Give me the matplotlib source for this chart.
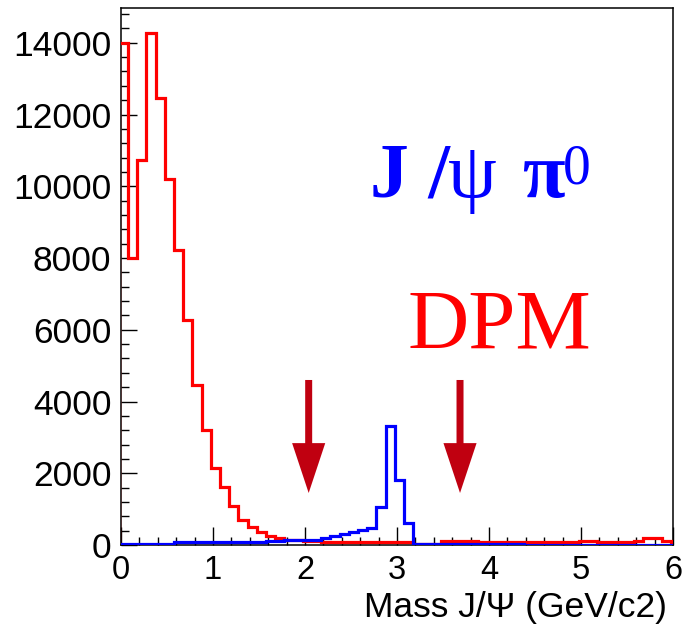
import numpy as np
import matplotlib
matplotlib.use("Agg")
import matplotlib.pyplot as plt
from matplotlib.ticker import MultipleLocator

# histogram binning: 0.1 GeV bins, first edge at -0.025
bin_width = 0.1
first_edge = -0.025

# DPM background (red)
dpm_counts = [14000, 8010, 10740, 14270, 12470, 10210, 8210, 6280, 4470, 3215,
              2160, 1620, 1090, 705, 500, 360, 262, 200, 150, 150,
              110, 100, 75, 75, 75, 70, 75, 75, 70, 75,
              75, 75, 30, 30, 30, 125, 125, 125, 125, 90,
              90, 90, 90, 90, 92, 92, 92, 92, 92, 92,
              115, 115, 92, 92, 92, 92, 100, 195, 190, 110,
              90]

# J/psi pi0 signal (blue)
sig_counts = [40, 40, 40, 40, 40, 40, 80, 80, 80, 80,
              80, 80, 80, 80, 80, 80, 125, 125, 130, 130,
              140, 150, 200, 250, 300, 355, 410, 480, 1050, 3310,
              1808, 610, 40, 40, 40, 40, 40, 40, 40, 40,
              40, 40, 40, 40, 0, 0, 0, 0, 0, 0,
              0, 0, 0, 0, 0, 0, 0, 0, 0, 0,
              0]

edges = first_edge + bin_width * np.arange(len(dpm_counts) + 1)

# cut positions (arrows)
cut_x = [2.04, 3.685]
arrow_top = 4600
arrow_tip = 1450

fig = plt.figure(figsize=(6.83, 6.28), dpi=100)
ax = fig.add_axes([121 / 683, 1 - 545 / 628, 552 / 683, (545 - 7.5) / 628])

ax.stairs(dpm_counts, edges, color="#ff0000", linewidth=2.3, baseline=0, zorder=3)
ax.stairs(sig_counts, edges, color="#0000ff", linewidth=2.3, baseline=0, zorder=3)

for cx in cut_x:
    ax.arrow(cx, arrow_top, 0, arrow_tip - arrow_top, width=0.076,
             head_width=0.36, head_length=1390, length_includes_head=True,
             color="#c00010", linewidth=0, zorder=4)

ax.set_xlim(0, 6)
ax.set_ylim(0, 1.05 * max(dpm_counts))

ax.xaxis.set_major_locator(MultipleLocator(1))
ax.xaxis.set_minor_locator(MultipleLocator(0.2))
ax.yaxis.set_major_locator(MultipleLocator(2000))
ax.yaxis.set_minor_locator(MultipleLocator(400))

ax.tick_params(which="both", direction="in", top=False, right=False, width=1.0)
ax.tick_params(axis="y", which="major", length=11.5, pad=7)
ax.tick_params(axis="y", which="minor", length=5.8)
ax.tick_params(axis="x", which="major", length=13, pad=7)
ax.tick_params(axis="x", which="minor", length=6)

for lab in ax.get_yticklabels():
    lab.set_family(["Liberation Sans"])
    lab.set_fontsize(25.5)
for lab in ax.get_xticklabels():
    lab.set_family(["Liberation Sans"])
    lab.set_fontsize(23.5)

for sp in ax.spines.values():
    sp.set_linewidth(1.1)

fig.text(667 / 683, 1 - 617 / 628, "Mass J/\u03a8 (GeV/c2)", ha="right",
         va="baseline", fontsize=25.5, family=["Liberation Sans"])

# J /psi pi0 label, pieces placed by hand
fig.text(370 / 683, 1 - 197 / 628, "J /", color="#0000ff",
         fontsize=56, fontweight="bold", family=["Liberation Serif"],
         ha="left", va="baseline")
fig.text(448 / 683, 1 - 197 / 628, "\u03c8", color="#0000ff",
         fontsize=56, family=["Liberation Serif"], ha="left", va="baseline")
fig.text(522 / 683, 1 - 197 / 628, "\u03c0", color="#0000ff",
         fontsize=56, fontweight="bold", family=["Liberation Serif"],
         ha="left", va="baseline")
fig.text(563 / 683, 1 - 183 / 628, "0", color="#0000ff", fontsize=40,
         family=["Liberation Serif"], ha="left", va="baseline")
fig.text(408 / 683, 1 - 348 / 628, "DPM", color="#ff0000", fontsize=61,
         family=["Liberation Serif"], ha="left", va="baseline")

fig.savefig("out.png", dpi=100)
